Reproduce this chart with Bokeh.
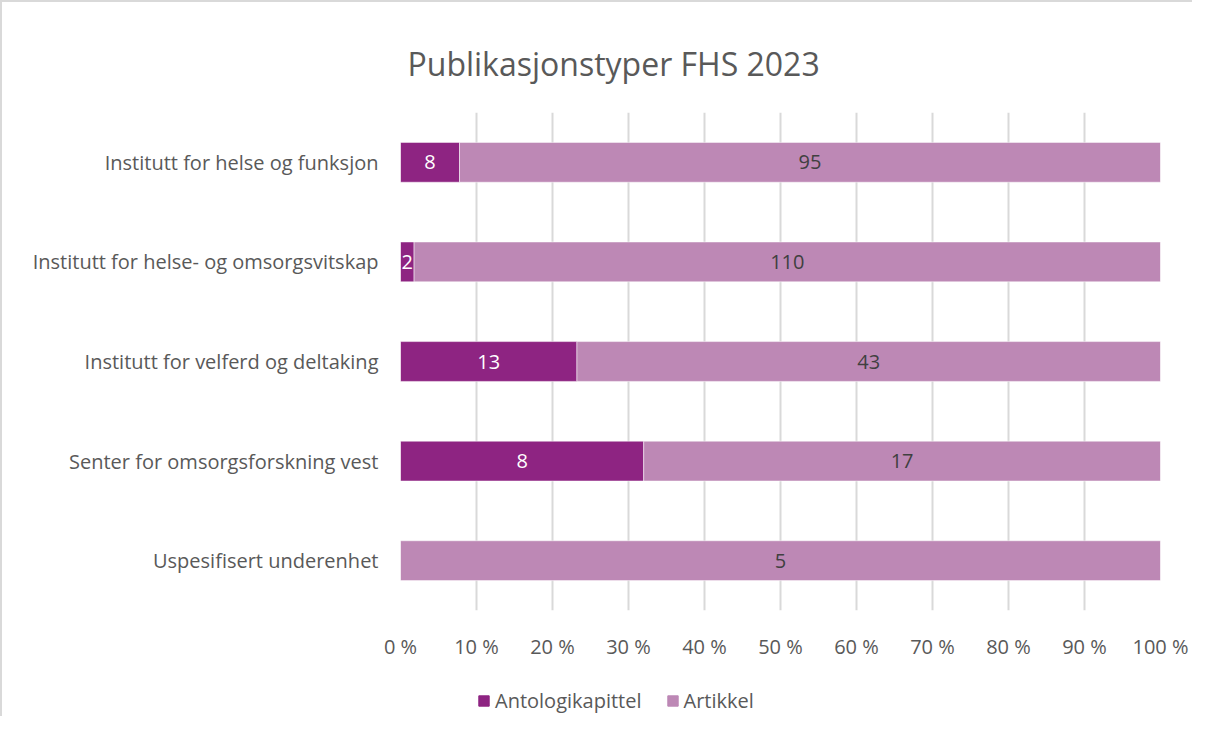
from bokeh.plotting import figure
from bokeh.models import ColumnDataSource, FactorRange, Legend, LegendItem, FixedTicker, Range1d
from bokeh.layouts import column
from bokeh.core.properties import value
from bokeh.embed import file_html
from bokeh.resources import INLINE
import numpy as np

categories = [
    "Institutt for helse og funksjon",
    "Institutt for helse- og omsorgsvitskap",
    "Institutt for velferd og deltaking",
    "Senter for omsorgsforskning vest",
    "Uspesifisert underenhet",
]
antologikapittel = [8, 2, 13, 8, 0]
artikkel = [95, 110, 43, 17, 5]
series_names = ["Antologikapittel", "Artikkel"]
colors = ["#8E2482", "#BD88B5"]
tick_values = [0.0, 0.1, 0.2, 0.3, 0.4, 0.5, 0.6, 0.7, 0.8, 0.9, 1.0]
tick_labels = ["0 %", "10 %", "20 %", "30 %", "40 %", "50 %", "60 %", "70 %", "80 %", "90 %", "100 %"]

FONT = "Open Sans"
TXT = "#595959"
FS = "20px"

a = np.array(antologikapittel, dtype=float)
b = np.array(artikkel, dtype=float)
tot = a + b
fa = a / tot
fb = b / tot

src = ColumnDataSource(dict(cat=categories, ant=fa, art=fb))

p = figure(
    width=1190, height=660,
    y_range=FactorRange(factors=list(reversed(categories)), range_padding=0),
    x_range=(0, 1),
    output_backend="svg", toolbar_location=None,
    min_border_left=398, min_border_right=32, min_border_top=110, min_border_bottom=45,
    title="Publikasjonstyper FHS 2023",
)
p.outline_line_color = None
p.background_fill_color = "white"
p.border_fill_color = "white"

p.title.align = "left"
p.title.offset = 7
p.title.text_font = FONT
p.title.text_font_size = "32px"
p.title.text_font_style = "normal"
p.title.text_color = TXT
p.title.standoff = 56

rs = p.hbar_stack(["ant", "art"], y="cat", height=0.4, color=colors, source=src,
                  line_color="white", line_width=0.5)

# data labels
lab_a = [i for i in range(len(categories)) if a[i] > 0]
src_la = ColumnDataSource(dict(
    x=[fa[i] / 2 for i in lab_a],
    y=[categories[i] for i in lab_a],
    t=[str(int(a[i])) for i in lab_a],
))
src_lb = ColumnDataSource(dict(
    x=[fa[i] + fb[i] / 2 for i in range(len(categories))],
    y=categories,
    t=[str(int(v)) for v in b],
))
p.text(x="x", y="y", text="t", source=src_la, text_align="center", text_baseline="middle",
       text_color="white", text_font=value(FONT), text_font_size=FS)
p.text(x="x", y="y", text="t", source=src_lb, text_align="center", text_baseline="middle",
       text_color="#404040", text_font=value(FONT), text_font_size=FS)

p.xaxis.ticker = FixedTicker(ticks=tick_values)
p.xaxis.major_label_overrides = {v: l for v, l in zip(tick_values, tick_labels)}
p.xaxis.axis_line_color = None
p.xaxis.major_tick_line_color = None
p.xaxis.minor_tick_line_color = None
p.xaxis.major_label_standoff = 16
p.xaxis.major_label_text_font = FONT
p.xaxis.major_label_text_font_size = FS
p.xaxis.major_label_text_color = TXT

p.yaxis.axis_line_color = None
p.yaxis.major_tick_line_color = None
p.yaxis.minor_tick_line_color = None
p.yaxis.major_label_standoff = 16
p.yaxis.major_label_text_font = FONT
p.yaxis.major_label_text_font_size = FS
p.yaxis.major_label_text_color = TXT

p.xgrid.grid_line_color = "#D9D9D9"
p.xgrid.grid_line_width = 2
p.ygrid.grid_line_color = None

# legend in a separate strip below the chart (dummy glyphs lie outside its visible range)
lf = figure(width=1190, height=54, x_range=Range1d(0, 1), y_range=Range1d(0, 1),
            output_backend="svg", toolbar_location=None,
            min_border_left=0, min_border_right=0, min_border_top=0, min_border_bottom=0)
lf.axis.visible = False
lf.grid.visible = False
lf.outline_line_color = None
lrs = []
for name, col in zip(series_names, colors):
    lrs.append(lf.hbar(y=[-5], right=[1], height=0.4, color=col))

legend = Legend(items=[LegendItem(label=n, renderers=[r]) for n, r in zip(series_names, lrs)],
                orientation="horizontal", location=(77, 2))
legend.label_text_font = FONT
legend.label_text_font_size = FS
legend.label_text_color = TXT
legend.glyph_width = 13
legend.glyph_height = 13
legend.label_standoff = 5
legend.spacing = 24
legend.border_line_color = None
legend.background_fill_alpha = 0
legend.padding = 0
legend.margin = 0
lf.add_layout(legend, "center")

layout = column(p, lf, spacing=0)
layout.styles = {"border-left": "2px solid #D9D9D9", "border-top": "2px solid #D9D9D9"}
open("out.html", "w").write(file_html(layout, INLINE))
